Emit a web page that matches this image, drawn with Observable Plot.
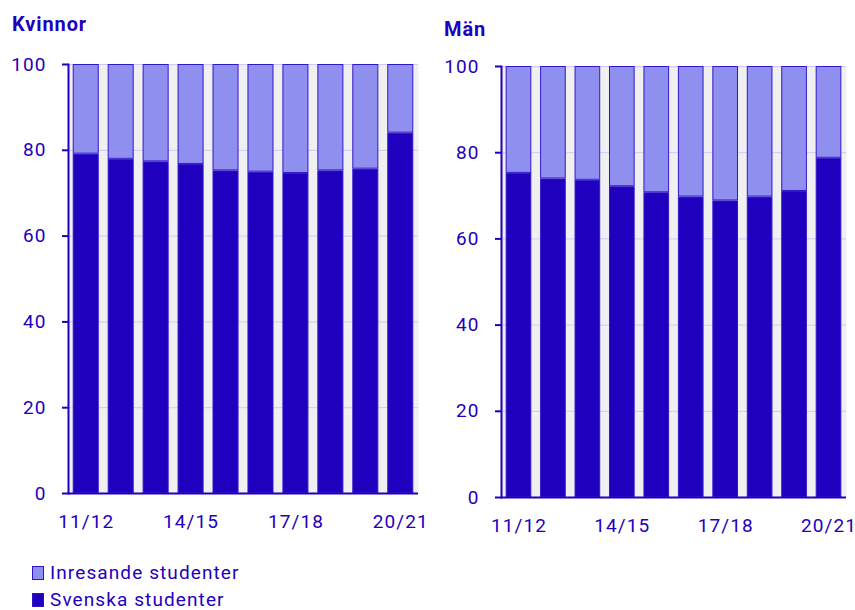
<!DOCTYPE html>
<html>
<head>
<meta charset="utf-8">
<script src="https://cdn.jsdelivr.net/npm/d3@7"></script>
<script src="https://cdn.jsdelivr.net/npm/@observablehq/plot@0.6"></script>
<style>
  body { margin: 0; background: #fff; font-family: Roboto, sans-serif; }
  #wrap { position: relative; width: 855px; height: 610px; overflow: hidden; }
  .panel { position: absolute; top: 0; }
  .panel svg { overflow: visible; }
  .title { position: absolute; font-weight: bold; font-size: 20px; letter-spacing: 0.9px; color: #1e00be; }
  .legend { position: absolute; left: 32px; font-size: 19px; letter-spacing: 1.1px; color: #1e00be; display: flex; align-items: center; white-space: nowrap; }
  .legend .sw { width: 10px; height: 12px; border: 1px solid #2d14c8; margin-right: 6px; }
</style>
</head>
<body>
<div id="wrap">
  <div class="title" style="left:12px; top:12px;">Kvinnor</div>
  <div class="title" style="left:444px; top:17px;">Män</div>
  <div class="panel" id="left" style="left:0px;"></div>
  <div class="panel" id="right" style="left:430px;"></div>
  <div class="legend" style="top:561px;"><span class="sw" style="background:#8f8ff0"></span>Inresande studenter</div>
  <div class="legend" style="top:588px;"><span class="sw" style="background:#1e00be"></span>Svenska studenter</div>
</div>
<script>
const years = ["11/12","12/13","13/14","14/15","15/16","16/17","17/18","18/19","19/20","20/21"];
const tickYears = ["11/12","14/15","17/18","20/21"];
const series = ["Svenska studenter", "Inresande studenter"];
const kvinnorSvenska   = [79.1, 77.9, 77.3, 76.7, 75.2, 74.9, 74.6, 75.2, 75.6, 84.0];
const kvinnorInresande = [20.9, 22.1, 22.7, 23.3, 24.8, 25.1, 25.4, 24.8, 24.4, 16.0];
const manSvenska       = [75.2, 73.9, 73.6, 72.1, 70.7, 69.7, 68.8, 69.7, 71.0, 78.7];
const manInresande     = [24.8, 26.1, 26.4, 27.9, 29.3, 30.3, 31.2, 30.3, 29.0, 21.3];
const yTicks = [0, 20, 40, 60, 80, 100];
const colors = ["#1e00be", "#8f8ff0"];

function rows(sv, inr) {
  const out = [];
  years.forEach((y, i) => {
    out.push({year: y, series: series[0], value: sv[i]});
    out.push({year: y, series: series[1], value: inr[i]});
  });
  return out;
}

function panel(data, opts) {
  return Plot.plot({
    width: opts.width,
    height: 560,
    marginLeft: opts.ml,
    marginRight: opts.mr,
    marginTop: opts.mt,
    marginBottom: 560 - opts.base,
    style: {fontFamily: "Roboto, sans-serif", fontSize: "19px", letterSpacing: "1.1px", color: "#1e00be", background: "transparent", overflow: "visible"},
    x: {type: "band", domain: years, paddingInner: 0.255, paddingOuter: 0.135, round: false, axis: null},
    y: {domain: [0, 100], axis: null},
    color: {domain: series, range: colors},
    marks: [
      Plot.frame({fill: "#f0f0f0", stroke: null}),
      Plot.gridY(yTicks, {stroke: "#cfcaf5", strokeOpacity: 1, strokeWidth: 1}),
      Plot.barY(data, {x: "year", y: "value", fill: "series", order: series, stroke: "#3218cc", strokeWidth: 1, inset: 0.5}),
      Plot.axisY(yTicks, {tickSize: 6, tickPadding: 16, stroke: "#1e00be", strokeWidth: 2, fill: "#1e00be", fontSize: 19, label: null}),
      Plot.axisX(tickYears, {tickSize: 0, tickPadding: 21, fill: "#1e00be", fontSize: 19, label: null}),
      Plot.frame({anchor: "left", stroke: "#1e00be", strokeWidth: 2}),
      Plot.ruleY([0], {stroke: "#1e00be", strokeWidth: 2})
    ]
  });
}

document.getElementById("left").append(panel(rows(kvinnorSvenska, kvinnorInresande), {width: 427, ml: 68, mr: 9, mt: 64, base: 493}));
document.getElementById("right").append(panel(rows(manSvenska, manInresande), {width: 425, ml: 71, mr: 9, mt: 66, base: 497}));
</script>
</body>
</html>
